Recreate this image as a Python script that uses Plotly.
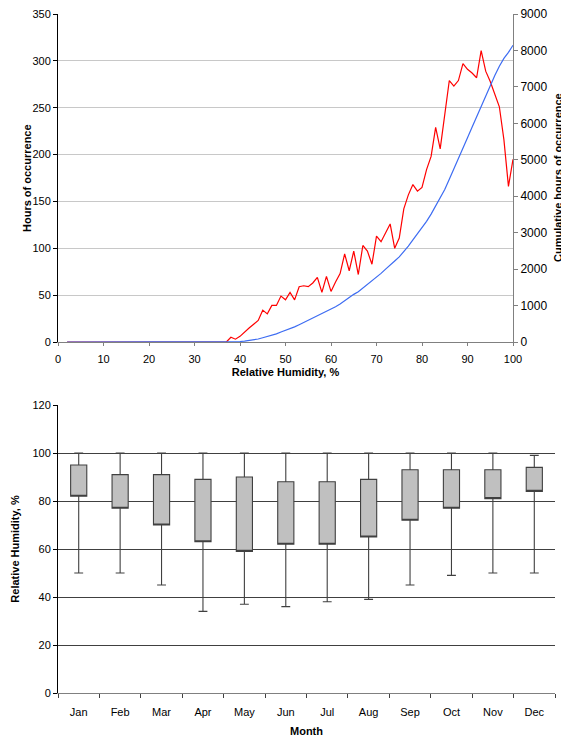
import plotly.graph_objects as go

# ---------------- Top chart data ----------------
rh = list(range(2, 101))
hours = [0] * 36 + [  # RH 2..37
    5, 3, 6, 11, 15, 19, 23,                      # 38-44
    34, 30, 39, 39, 49, 45, 53, 45,              # 45-52
    59, 60, 59, 63, 69, 53, 70, 54,              # 53-60
    64, 73, 94, 76, 97, 72, 103, 97, 83, 113,    # 61-70
    107, 116, 126, 100, 111, 142, 157, 168, 161, 165,  # 71-80
    184, 198, 229, 206, 240, 279, 273, 279, 297, 291,  # 81-90
    287, 282, 311, 289, 278, 264, 251, 216, 166, 195,  # 91-100
]
cumulative = [0] * 36 + [
    5, 8, 14, 25, 40, 59, 82,
    116, 146, 185, 224, 273, 318, 371, 416,
    475, 535, 594, 657, 726, 779, 849, 903,
    967, 1040, 1134, 1210, 1307, 1379, 1482, 1579, 1662, 1775,
    1882, 1998, 2124, 2224, 2335, 2477, 2634, 2802, 2963, 3128,
    3312, 3510, 3739, 3945, 4185, 4464, 4737, 5016, 5313, 5604,
    5891, 6173, 6484, 6773, 7051, 7315, 7566, 7782, 7948, 8143,
]

# ---------------- Bottom chart data ----------------
months = ["Jan", "Feb", "Mar", "Apr", "May", "Jun", "Jul", "Aug", "Sep", "Oct", "Nov", "Dec"]
rh_min = [50, 50, 45, 34, 37, 36, 38, 39, 45, 49, 50, 50]
rh_q1 = [82, 77, 70, 63, 59, 62, 62, 65, 72, 77, 81, 84]
rh_q3 = [95, 91, 91, 89, 90, 88, 88, 89, 93, 93, 93, 94]
rh_max = [100, 100, 100, 100, 100, 100, 100, 100, 100, 100, 100, 99]

# The page body has an 8px default margin, so the figure is placed at (8, 8).
OFF = 8
W, H = 569 - OFF, 737 - OFF
FONT = "Liberation Sans, Arial, sans-serif"

def px_x(p):
    return (p - OFF) / W

def px_y(p):
    return (H - (p - OFF)) / H

fig = go.Figure()

fig.add_trace(go.Scatter(
    x=rh, y=hours, mode="lines", line=dict(color="#ff0000", width=1.2),
    xaxis="x", yaxis="y", showlegend=False))
fig.add_trace(go.Scatter(
    x=rh, y=cumulative, mode="lines", line=dict(color="#3d6cf2", width=1.2),
    xaxis="x", yaxis="y2", showlegend=False))

fig.add_trace(go.Box(
    x=months, q1=rh_q1, median=rh_q1, q3=rh_q3,
    lowerfence=rh_min, upperfence=rh_max,
    fillcolor="#c0c0c0", line=dict(color="#404040", width=1.1),
    width=0.39, whiskerwidth=0.55, boxpoints=False,
    xaxis="x3", yaxis="y3", showlegend=False))

tickfont = dict(family=FONT, size=11, color="#000000")
tickfont_r = dict(family=FONT, size=12, color="#000000")
titlefont = dict(family=FONT, size=11, color="#000000", weight="bold")

fig.update_layout(
    width=W, height=H,
    margin=dict(l=0, r=0, t=0, b=0, autoexpand=False),
    paper_bgcolor="white", plot_bgcolor="white",
    font=dict(family=FONT, size=11, color="#000000"),
    xaxis=dict(
        domain=[px_x(58), px_x(513)], anchor="y", automargin=False,
        range=[0, 100], tick0=0, dtick=10, showgrid=False, zeroline=False,
        showline=True, linecolor="#808080", linewidth=1,
        ticks="outside", ticklen=3, tickcolor="#808080",
        tickfont=tickfont, ticklabelstandoff=4, ticklabeloverflow="allow",
        title=dict(text="Relative Humidity, %", font=titlefont, standoff=4),
    ),
    yaxis=dict(
        domain=[px_y(342), px_y(14)], anchor="x", automargin=False,
        range=[0, 350], tick0=0, dtick=50,
        showgrid=True, gridcolor="#c8c8c8", gridwidth=1, zeroline=False,
        showline=True, linecolor="#000000", linewidth=1,
        ticks="outside", ticklen=4, tickcolor="#000000",
        tickfont=tickfont, ticklabeloverflow="allow",
    ),
    yaxis2=dict(
        overlaying="y", side="right", anchor="x", automargin=False,
        range=[0, 9000], tick0=0, dtick=1000,
        showgrid=False, zeroline=False,
        showline=True, linecolor="#808080", linewidth=1,
        ticks="outside", ticklen=4, tickcolor="#808080",
        tickfont=tickfont_r, ticklabeloverflow="allow",
    ),
    xaxis3=dict(
        domain=[px_x(58), px_x(555)], anchor="y3", automargin=False,
        type="category", categoryorder="array", categoryarray=months,
        range=[-0.5, 11.5], showgrid=False, zeroline=False,
        showline=True, linecolor="#808080", linewidth=1,
        ticks="outside", ticklen=4, tickcolor="#404040", tickson="boundaries",
        tickfont=tickfont, ticklabelstandoff=9, ticklabeloverflow="allow",
        title=dict(text="Month", font=titlefont, standoff=11),
    ),
    yaxis3=dict(
        domain=[px_y(693), px_y(405)], anchor="x3", automargin=False,
        range=[0, 120], tick0=0, dtick=20,
        showgrid=True, gridcolor="#404040", gridwidth=1, zeroline=False,
        showline=True, linecolor="#000000", linewidth=1,
        ticks="outside", ticklen=4, tickcolor="#000000",
        tickfont=tickfont, ticklabeloverflow="allow",
        title=dict(text="Relative Humidity, %", font=titlefont, standoff=10),
    ),
    annotations=[
        dict(
            text="<b>Hours of occurrence</b>", xref="paper", yref="paper",
            x=px_x(27), y=px_y(178), textangle=-90, showarrow=False,
            font=dict(family=FONT, size=11, color="#000000"),
            xanchor="center", yanchor="middle",
        ),
        dict(
            text="<b>Cumulative hours of occurrence</b>", xref="paper", yref="paper",
            x=px_x(558), y=px_y(178), textangle=-90, showarrow=False,
            font=dict(family=FONT, size=11, color="#000000"),
            xanchor="center", yanchor="middle",
        ),
    ],
)

fig.write_html("out.html")
